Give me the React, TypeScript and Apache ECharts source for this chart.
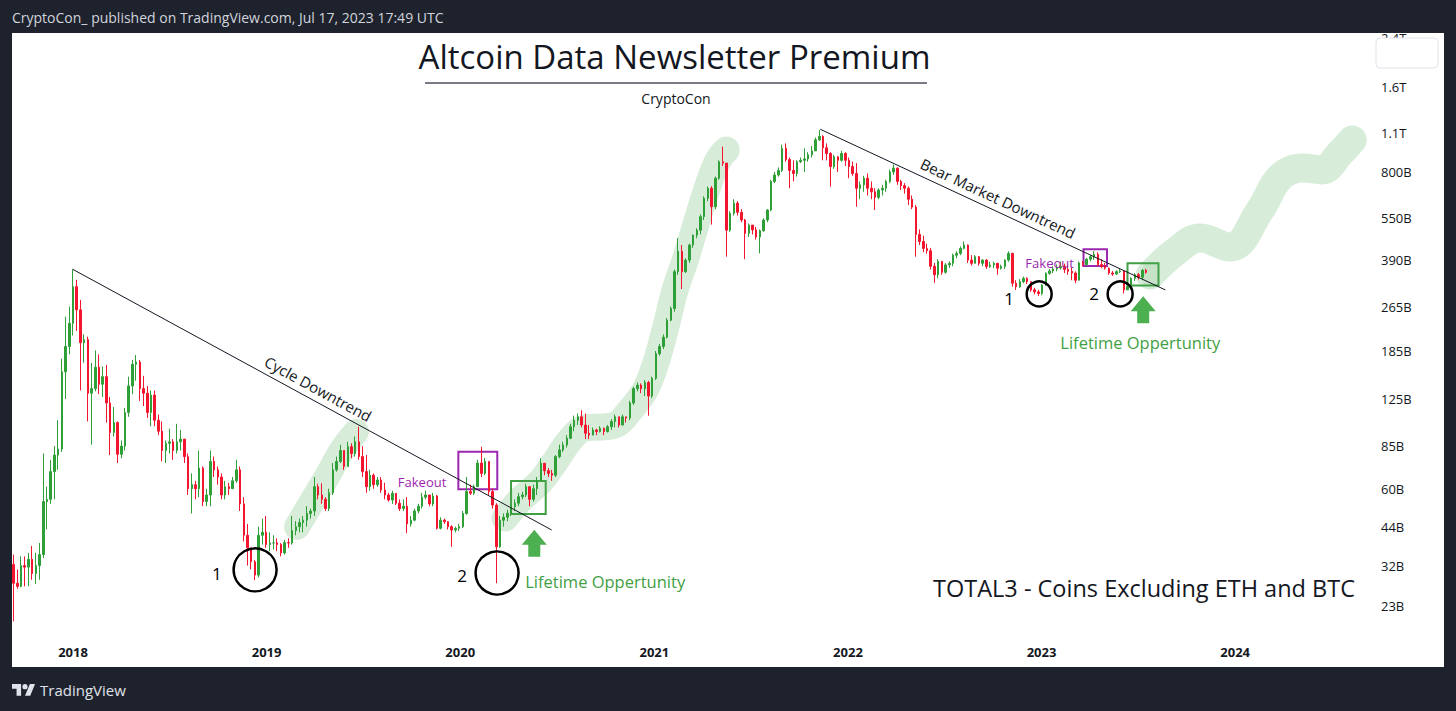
import React, { useEffect, useRef } from "react";
import * as echarts from "echarts";

// ---------- DATA ----------
const START_WEEK = "2017-09-11"; // first weekly candle (Monday)
const FIRST_OPEN = 32.3; // billions
// weekly closes (billions USD)
const CLOSE = [
  27.7, 27, 32, 31.6, 33.7, 30, 32, 35, 54, 55, 69, 79, 83, 156, 192, 232, 313, 259, 198, 203,
  131, 136, 162, 141, 150, 121, 95, 103, 79.5, 85, 112, 139, 166, 169, 136, 131, 112, 129, 105, 96,
  82, 87, 88, 82, 88, 90, 78, 60, 62, 60, 71, 54, 57, 75, 70, 66, 57, 61, 60, 64,
  70, 53, 41, 37, 33, 29.6, 41, 42, 38, 38.5, 38.5, 38, 35.5, 38.6, 38.5, 42.6, 44, 45.5, 46.4, 49,
  50, 61, 57, 55, 51, 58, 70, 75, 82, 72, 84.6, 80, 88, 78, 69, 61, 67, 62, 64.4, 59.4,
  57, 54.7, 57.8, 53.3, 51, 52, 45, 46.4, 50, 52, 56, 57, 53, 56.5, 43.4, 46.4, 45.8, 44, 42.8, 43.4,
  44, 49, 58.6, 57.8, 61, 74, 68, 75, 58.6, 52.5, 37.3, 46.4, 47.5, 49.1, 51.8, 53.3, 56.2, 57, 61, 55,
  60, 64, 73.9, 69.5, 68, 67, 78, 82.4, 85.8, 90.6, 99.6, 105, 108, 101, 94.4, 93, 97, 95.7, 98.3, 95.7,
  99.6, 104, 108, 101, 108, 107, 121, 136, 140, 136, 143, 128, 148, 181, 192, 207, 238, 262, 354, 418,
  354, 389, 440, 477, 497, 555, 645, 700, 602, 760, 870, 860, 497, 570, 620, 575, 540, 484, 518, 498,
  470, 495, 540, 586, 740, 780, 810, 970, 885, 810, 790, 870, 880, 890, 920, 950, 1040, 1070, 975, 930,
  836, 905, 880, 930, 880, 836, 790, 700, 720, 760, 700, 680, 650, 690, 700, 740, 800, 825, 740, 715,
  700, 640, 600, 480, 453, 428, 420, 370, 345, 385, 352, 374, 379, 405, 411, 428, 440, 389, 379, 400,
  379, 389, 369, 374, 379, 364, 369, 389, 411, 322, 313, 326, 335, 326, 305, 300, 296, 317, 349, 356,
  362, 365, 370, 360, 355, 350, 330, 380, 375, 392, 400, 408, 375, 370, 364, 350, 347, 354, 356, 305,
  313, 335, 345, 338, 358, 352,
];
const HIGH = [
  35, 31, 34.5, 34.5, 35.5, 37.6, 35.5, 38.5, 80, 61, 76, 85, 105, 174, 245, 266, 361, 331, 281, 212,
  208, 168, 186, 180, 163, 165, 127, 117, 104, 89, 116, 150, 172, 179, 172, 151, 139, 134, 134, 110,
  104, 89, 98, 90, 102, 97, 90, 80, 68, 64, 82, 72, 60, 82, 78, 72, 68, 64, 63, 66,
  76, 72, 56, 45, 37, 33.5, 44, 47, 48, 42, 41, 40, 38.5, 39.5, 40, 48, 46, 47, 48, 52,
  51, 66, 62.5, 62.7, 56, 60, 74, 78, 86, 82, 88, 87, 92, 99.6, 85, 79, 70, 68, 66, 66,
  63, 58, 59, 56, 55, 55, 56, 48, 51, 53, 58, 59, 57, 58, 57, 47.5, 47, 46, 44.5, 44,
  45, 50, 66, 62, 62, 76, 84.6, 77, 75, 60, 53.3, 48, 49, 50.5, 53, 55, 58, 58.5, 62.5, 61,
  62, 66, 77, 74, 71, 70, 79, 86, 88, 93, 102, 109, 111, 114, 111, 101, 99, 98, 100, 99,
  101, 106, 110, 107, 110, 108, 123, 138, 143, 142, 146, 145, 150, 185, 196, 212, 242, 266, 360, 466,
  440, 395, 445, 480, 505, 565, 655, 710, 712, 770, 880, 984, 860, 580, 640, 630, 590, 545, 525, 515,
  510, 500, 548, 590, 750, 800, 830, 1000, 1010, 900, 880, 880, 900, 970, 940, 990, 1060, 1127, 1080, 1010,
  940, 920, 910, 950, 940, 900, 870, 860, 740, 775, 790, 740, 700, 700, 720, 750, 815, 850, 830, 750,
  730, 710, 660, 610, 500, 475, 445, 430, 380, 392, 385, 380, 385, 410, 418, 435, 453, 442, 405, 405,
  402, 392, 392, 384, 384, 380, 375, 392, 418, 413, 330, 333, 340, 338, 320, 310, 305, 320, 352, 362,
  370, 375, 385, 378, 375, 365, 355, 385, 386, 396, 405, 418, 415, 392, 380, 366, 356, 358, 362, 356,
  325, 338, 350, 350, 362, 362,
];
const LOW = [
  20.3, 26.5, 26.8, 27, 27, 28.5, 27.5, 28.5, 34, 43, 53, 55, 70, 81, 125, 180, 210, 218, 134, 168,
  104, 86, 133, 130, 127, 103, 79, 92, 74, 77, 82, 108, 130, 145, 123, 118, 107, 100, 100, 93,
  75, 74, 80, 76, 80, 82, 74, 57, 49, 55, 56, 52, 52, 52, 66, 62, 55, 55, 57, 60,
  63, 50, 39, 32, 31, 28.4, 29, 38, 37, 36, 36.5, 36, 34.5, 35, 37, 38, 41, 42, 42, 44,
  47, 48, 55, 53, 50, 50, 57, 69, 74, 70, 72, 77, 78, 76, 66, 58, 59, 60, 61, 58,
  55, 54, 53, 52.5, 50, 50, 41.7, 44, 46, 49, 51, 55, 52, 52, 43, 43, 45, 43, 37.3, 42,
  42.5, 43.5, 48.5, 57, 57, 62, 66, 67, 57, 51, 27.7, 37, 44, 46, 48, 50, 52, 55, 56, 52,
  54, 57, 66, 67, 66, 64, 66, 77, 81, 84, 90, 96, 101, 99, 90, 90, 93, 93, 95, 93,
  95, 97, 99, 99, 102, 103, 105, 119, 133, 131, 128, 109, 126, 146, 178, 188, 205, 236, 255, 345,
  307, 350, 380, 430, 465, 480, 540, 630, 520, 590, 750, 840, 400, 490, 560, 560, 530, 392, 470, 480,
  460, 411, 490, 530, 580, 730, 770, 800, 870, 700, 740, 770, 860, 800, 870, 900, 950, 1030, 880, 880,
  709, 820, 800, 870, 840, 760, 775, 602, 640, 680, 660, 640, 586, 640, 660, 680, 730, 780, 720, 690,
  670, 610, 590, 400, 440, 415, 410, 360, 323, 335, 345, 348, 365, 370, 395, 405, 425, 380, 372, 382,
  372, 370, 362, 365, 364, 345, 360, 362, 384, 313, 305, 310, 322, 320, 300, 294, 290, 292, 315, 345,
  350, 355, 360, 350, 345, 330, 322, 330, 370, 372, 385, 390, 370, 364, 360, 345, 342, 345, 350, 296,
  305, 312, 328, 332, 330, 348,
];

const Y_TICKS = [23, 32, 44, 60, 85, 125, 185, 265, 390, 550, 800, 1100, 1600, 2400];
const YEAR_TICKS = [2018, 2019, 2020, 2021, 2022, 2023, 2024];
const X_RANGE = ["2017-09-08", "2024-09-15"];
const Y_RANGE = [18.14, 2491.6];

// annotations: [decimal year, value in billions]
const CYCLE_LINE = [[2017.998, 361], [2020.471, 42.8]];
const BEAR_LINE = [[2021.857, 1134], [2023.638, 305]];
const BAND_2019 = [[2019.156, 43.9], [2019.239, 54.7], [2019.316, 67.1], [2019.389, 82.4], [2019.461, 95.4]];
const BAND_2020 = [
  [2020.23, 47.2], [2020.308, 54.7], [2020.411, 63.4], [2020.488, 74.7], [2020.566, 89.4],
  [2020.643, 98.6], [2020.721, 99.4], [2020.798, 101], [2020.876, 114], [2020.953, 134.5],
  [2021.005, 165], [2021.056, 220], [2021.108, 305], [2021.16, 389], [2021.222, 540],
  [2021.279, 719], [2021.33, 882], [2021.372, 957],
];
const BAND_FUTURE = [
  [2023.56, 344.6], [2023.689, 415.7], [2023.818, 466], [2023.973, 433], [2024.128, 586],
  [2024.231, 767], [2024.35, 826], [2024.448, 813], [2024.541, 934], [2024.603, 1039],
];
const PURPLE_BOXES = [
  [[2019.989, 81.2], [2020.19, 59.7]],
  [[2023.216, 425], [2023.337, 371]],
];
const GREEN_BOXES = [
  [[2020.261, 63.9], [2020.44, 48.8]],
  [[2023.443, 379], [2023.603, 316]],
];
const GREEN_FILL = [[2023.524, 379], [2023.603, 316]];
const BIG_CIRCLES = [[2018.94, 30.9], [2020.189, 30.1]];
const SMALL_CIRCLES = [[2022.987, 295], [2023.405, 295]];
const NUMBER_LABELS: [string, number, number][] = [
  ["1", 2018.743, 29.9], ["2", 2020.008, 29.4], ["1", 2022.832, 285], ["2", 2023.271, 297],
];
const FAKEOUT_LABELS = [[2019.802, 63.4], [2023.041, 379]];
const LIFETIME_LABELS = [[2020.747, 28.1], [2023.509, 199]];
const ARROWS = [[2020.381, 38.4], [2023.524, 259]];

// ---------- STYLE ----------
const FONT = '"Open Sans", "Noto Sans", sans-serif';
const UP = "#2f9f37";
const DOWN = "#f2162e";
const INK = "#131722";
const PURPLE = "#9c27b0";
const GREEN_TXT = "#3f9f43";
const BAND = "rgba(76,175,80,0.22)";
const DARK = "#1e222d";

const TV_LOGO = "M14 22H7V11H0V4h14v18zM28 22h-8l7.5-18h8L28 22zM24 8a4 4 0 1 1-8 0a4 4 0 1 1 8 0z";
echarts.graphic.registerShape("tvlogo", echarts.graphic.extendPath(TV_LOGO, {}));

const DAY = 86400000;
const yr = (y: number) => Date.UTC(2018, 0, 1) + (y - 2018) * 365.25 * DAY;
const pt = (p: number[]) => [yr(p[0]), p[1]];

function buildOption() {
  const start = Date.parse(START_WEEK);
  const candles = CLOSE.map((c, i) => {
    const o = i === 0 ? FIRST_OPEN : CLOSE[i - 1];
    const h = Math.max(HIGH[i], o, c);
    const l = Math.min(LOW[i], o, c);
    return [start + i * 7 * DAY, o, c, l, h];
  });

  const band = (pts: number[][], w: number) => ({
    type: "line",
    data: pts.map(pt),
    smooth: 0.4,
    showSymbol: false,
    symbol: "none",
    silent: true,
    z: 1,
    lineStyle: { width: w, color: BAND, cap: "round", join: "round" },
    emphasis: { disabled: true },
  });

  const textSeries = (items: { p: number[]; t: string }[], color: string, size: number, weight = "normal") => ({
    type: "scatter",
    silent: true,
    z: 6,
    symbolSize: 1,
    itemStyle: { color: "rgba(0,0,0,0)", opacity: 1 },
    emphasis: { disabled: true },
    label: {
      show: true,
      position: "inside",
      color,
      opacity: 1,
      fontSize: size,
      fontFamily: FONT,
      fontWeight: weight,
      formatter: (p: any) => p.data.t,
    },
    data: items.map((it) => ({ value: pt(it.p), t: it.t })),
  });

  const circleSeries = (pts: number[][], size: number) => ({
    type: "scatter",
    silent: true,
    z: 5,
    symbol: "circle",
    symbolSize: size,
    itemStyle: { color: "rgba(0,0,0,0)", borderColor: "#000", borderWidth: 2.5, opacity: 1 },
    emphasis: { disabled: true },
    data: pts.map(pt),
  });

  return {
    animation: false,
    backgroundColor: DARK,
    grid: { left: 12, right: 84, top: 33, bottom: 76, containLabel: false, outerBoundsMode: "none" },
    xAxis: {
      type: "value",
      min: Date.parse(X_RANGE[0]),
      max: Date.parse(X_RANGE[1]),
      axisLine: { show: false },
      axisTick: { show: false },
      splitLine: { show: false },
      axisLabel: {
        customValues: YEAR_TICKS.map((y) => Date.UTC(y, 0, 1)),
        formatter: (v: number) => String(new Date(v).getUTCFullYear()),
        color: INK,
        fontSize: 13,
        fontWeight: "bold",
        fontFamily: FONT,
        margin: 10,
      },
    },
    yAxis: {
      type: "log",
      position: "right",
      min: Y_RANGE[0],
      max: Y_RANGE[1],
      axisLine: { show: false },
      axisTick: { show: false },
      splitLine: { show: false },
      axisLabel: {
        customValues: Y_TICKS,
        formatter: (v: number) => (v >= 1000 ? `${Math.round(v / 100) / 10}T` : `${Math.round(v)}B`),
        color: INK,
        fontSize: 13,
        fontFamily: FONT,
        align: "left",
        margin: 9,
      },
    },
    graphic: [
      { type: "rect", z: -10, silent: true, shape: { x: 12, y: 33, width: 1432, height: 634 }, style: { fill: "#ffffff" } },
      { type: "rect", z: 100, silent: true, shape: { x: 0, y: 0, width: 1456, height: 33 }, style: { fill: DARK } },
      {
        type: "text", z: 101, silent: true, x: 12, y: 17,
        style: { text: "CryptoCon_ published on TradingView.com, Jul 17, 2023 17:49 UTC", fill: "#d1d4dc", font: `14px ${FONT}`, align: "left", verticalAlign: "middle", textAlign: "left", textVerticalAlign: "middle" },
      },
      { type: "rect", z: 100, silent: true, shape: { x: 1376, y: 38, width: 62, height: 30, r: 4 }, style: { fill: "#fff", stroke: "#e0e3eb", lineWidth: 1 } },
      {
        type: "text", z: 50, silent: true, x: 674.5, y: 56,
        style: { text: "Altcoin Data Newsletter Premium", fill: INK, font: `33px ${FONT}`, align: "center", verticalAlign: "middle", textAlign: "center", textVerticalAlign: "middle" },
      },
      { type: "line", z: 50, silent: true, shape: { x1: 425, y1: 83, x2: 927, y2: 83 }, style: { stroke: "#787b86", lineWidth: 2 } },
      {
        type: "text", z: 50, silent: true, x: 676, y: 98,
        style: { text: "CryptoCon", fill: INK, font: `14px ${FONT}`, align: "center", verticalAlign: "middle", textAlign: "center", textVerticalAlign: "middle" },
      },
      {
        type: "text", z: 50, silent: true, x: 1355, y: 588,
        style: { text: "TOTAL3 - Coins Excluding ETH and BTC", fill: INK, font: `23.5px ${FONT}`, align: "right", verticalAlign: "middle", textAlign: "right", textVerticalAlign: "middle" },
      },
      { type: "tvlogo", z: 101, silent: true, x: 12, y: 681.5, scaleX: 0.65, scaleY: 0.65, style: { fill: "#e0e3eb" } },
      {
        type: "text", z: 101, silent: true, x: 40, y: 690,
        style: { text: "TradingView", fill: "#e0e3eb", font: `15px ${FONT}`, align: "left", verticalAlign: "middle", textAlign: "left", textVerticalAlign: "middle" },
      },
    ],
    series: [
      band(BAND_2019, 26),
      band(BAND_2020, 27),
      band(BAND_FUTURE, 29),
      {
        type: "candlestick",
        z: 2,
        barWidth: 2,
        silent: true,
        data: candles,
        itemStyle: { color: UP, color0: DOWN, borderColor: UP, borderColor0: DOWN, borderWidth: 1 },
        emphasis: { disabled: true },
        markArea: {
          silent: true,
          data: [
            ...PURPLE_BOXES.map((b) => [
              { coord: pt(b[0]), itemStyle: { color: "rgba(0,0,0,0)", borderColor: PURPLE, borderWidth: 2 } },
              { coord: pt(b[1]) },
            ]),
            ...GREEN_BOXES.map((b) => [
              { coord: pt(b[0]), itemStyle: { color: "rgba(0,0,0,0)", borderColor: GREEN_TXT, borderWidth: 2 } },
              { coord: pt(b[1]) },
            ]),
            [
              { coord: pt(GREEN_FILL[0]), itemStyle: { color: "rgba(67,160,71,0.12)", borderWidth: 0 } },
              { coord: pt(GREEN_FILL[1]) },
            ],
          ],
        },
        markLine: {
          silent: true,
          symbol: ["none", "none"],
          lineStyle: { color: INK, width: 1, type: "solid" },
          label: { show: true, position: "middle", color: INK, fontSize: 15, fontFamily: FONT, distance: 5 },
          emphasis: { disabled: true },
          data: [
            [{ coord: pt(CYCLE_LINE[0]), label: { formatter: "Cycle Downtrend" } }, { coord: pt(CYCLE_LINE[1]) }],
            [{ coord: pt(BEAR_LINE[0]), label: { formatter: "Bear Market Downtrend" } }, { coord: pt(BEAR_LINE[1]) }],
          ],
        },
      },
      circleSeries(BIG_CIRCLES, 43),
      circleSeries(SMALL_CIRCLES, 25),
      {
        type: "scatter",
        silent: true,
        z: 5,
        symbol: "path://M12.5,0 L25,15 L18.5,15 L18.5,27 L6.5,27 L6.5,15 L0,15 Z",
        symbolSize: [25, 27],
        itemStyle: { color: "#4caf50", opacity: 1 },
        emphasis: { disabled: true },
        data: ARROWS.map(pt),
      },
      textSeries(NUMBER_LABELS.map((n) => ({ p: [n[1], n[2]], t: n[0] })), "#000", 17),
      textSeries(FAKEOUT_LABELS.map((p) => ({ p, t: "Fakeout" })), PURPLE, 13),
      textSeries(LIFETIME_LABELS.map((p) => ({ p, t: "Lifetime Oppertunity" })), GREEN_TXT, 16.5),
    ],
  };
}

export default function App() {
  const ref = useRef<HTMLDivElement>(null);
  useEffect(() => {
    if (!ref.current) return;
    const chart = echarts.init(ref.current, undefined, { renderer: "svg" });
    chart.setOption(buildOption() as any);
    return () => chart.dispose();
  }, []);
  return (
    <div
      ref={ref}
      style={{ position: "fixed", left: 0, top: 0, width: 1456, height: 711 }}
    />
  );
}
